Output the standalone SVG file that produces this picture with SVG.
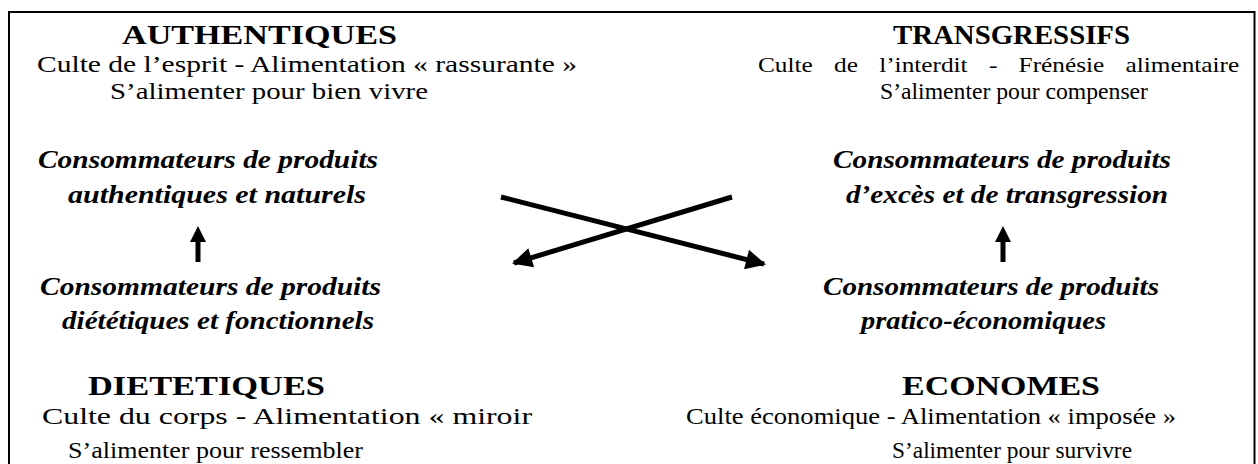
<svg xmlns="http://www.w3.org/2000/svg" width="1258" height="464" viewBox="0 0 1258 464">
<defs>
<style>
.bg{fill:#ffffff}
.frame{fill:none;stroke:#000;stroke-width:2}
.h{font-family:"Liberation Serif","Times New Roman",serif;font-weight:bold;font-size:28px;fill:#000}
.s{font-family:"Liberation Serif","Times New Roman",serif;font-size:23px;fill:#000}
.s2{font-family:"Liberation Serif","Times New Roman",serif;font-size:22px;fill:#000}
.i{font-family:"Liberation Serif","Times New Roman",serif;font-weight:bold;font-style:italic;font-size:25px;fill:#000}
.ln{stroke:#000;stroke-width:5;fill:none}
.ah{fill:#000}
</style>
<marker id="head" viewBox="0 0 10 10" refX="9" refY="5" markerWidth="4.4" markerHeight="4" orient="auto" markerUnits="strokeWidth">
<path d="M0,0 L10,5 L0,10 Z" fill="#000"/>
</marker>
</defs>
<rect class="bg" x="0" y="0" width="1258" height="464"/>
<path class="frame" d="M9,464 V12 H1254.5 V464"/>

<g id="authentiques">
<text class="h" x="122" y="44" textLength="275" lengthAdjust="spacingAndGlyphs">AUTHENTIQUES</text>
<text class="s" x="37" y="72" textLength="540" lengthAdjust="spacingAndGlyphs">Culte de l’esprit - Alimentation « rassurante »</text>
<text class="s" x="110" y="99" textLength="318" lengthAdjust="spacingAndGlyphs">S’alimenter pour bien vivre</text>
</g>

<g id="transgressifs">
<text class="h" x="893" y="44" textLength="237" lengthAdjust="spacingAndGlyphs">TRANSGRESSIFS</text>
<text class="s2" transform="translate(758,72) scale(1.15,1)" x="0" y="0" word-spacing="13">Culte de l’interdit - Frénésie alimentaire</text>
<text class="s" x="880" y="99" textLength="268" lengthAdjust="spacingAndGlyphs">S’alimenter pour compenser</text>
</g>

<g id="conso-authentiques">
<text class="i" x="38" y="168" textLength="340" lengthAdjust="spacingAndGlyphs">Consommateurs de produits</text>
<text class="i" x="68" y="203" textLength="298" lengthAdjust="spacingAndGlyphs">authentiques et naturels</text>
</g>

<g id="conso-transgression">
<text class="i" x="833" y="168" textLength="338" lengthAdjust="spacingAndGlyphs">Consommateurs de produits</text>
<text class="i" x="846" y="203" textLength="322" lengthAdjust="spacingAndGlyphs">d’excès et de transgression</text>
</g>

<g id="conso-dietetiques">
<text class="i" x="40" y="295" textLength="341" lengthAdjust="spacingAndGlyphs">Consommateurs de produits</text>
<text class="i" x="62" y="329" textLength="312" lengthAdjust="spacingAndGlyphs">diététiques et fonctionnels</text>
</g>

<g id="conso-economiques">
<text class="i" x="823" y="295" textLength="336" lengthAdjust="spacingAndGlyphs">Consommateurs de produits</text>
<text class="i" x="861" y="329" textLength="245" lengthAdjust="spacingAndGlyphs">pratico-économiques</text>
</g>

<g id="dietetiques">
<text class="h" x="88" y="395" textLength="237" lengthAdjust="spacingAndGlyphs">DIETETIQUES</text>
<text class="s" x="42" y="424" textLength="490" lengthAdjust="spacingAndGlyphs">Culte du corps - Alimentation « miroir</text>
<text class="s" x="68" y="458" textLength="295" lengthAdjust="spacingAndGlyphs">S’alimenter pour ressembler</text>
</g>

<g id="economes">
<text class="h" x="902" y="395" textLength="198" lengthAdjust="spacingAndGlyphs">ECONOMES</text>
<text class="s" x="686" y="424" textLength="490" lengthAdjust="spacingAndGlyphs">Culte économique - Alimentation « imposée »</text>
<text class="s" x="892" y="458" textLength="240" lengthAdjust="spacingAndGlyphs">S’alimenter pour survivre</text>
</g>

<g id="connectors">
<line class="ln" x1="501" y1="197" x2="764" y2="264" marker-end="url(#head)"/>
<line class="ln" x1="732" y1="197" x2="514" y2="263" marker-end="url(#head)"/>
<rect class="ah" x="195.5" y="240" width="5" height="22"/>
<path class="ah" d="M190,242 L198,226 L206,242 Z"/>
<rect class="ah" x="1000.5" y="240" width="5" height="22"/>
<path class="ah" d="M995,242 L1003,226 L1011,242 Z"/>
</g>
</svg>
